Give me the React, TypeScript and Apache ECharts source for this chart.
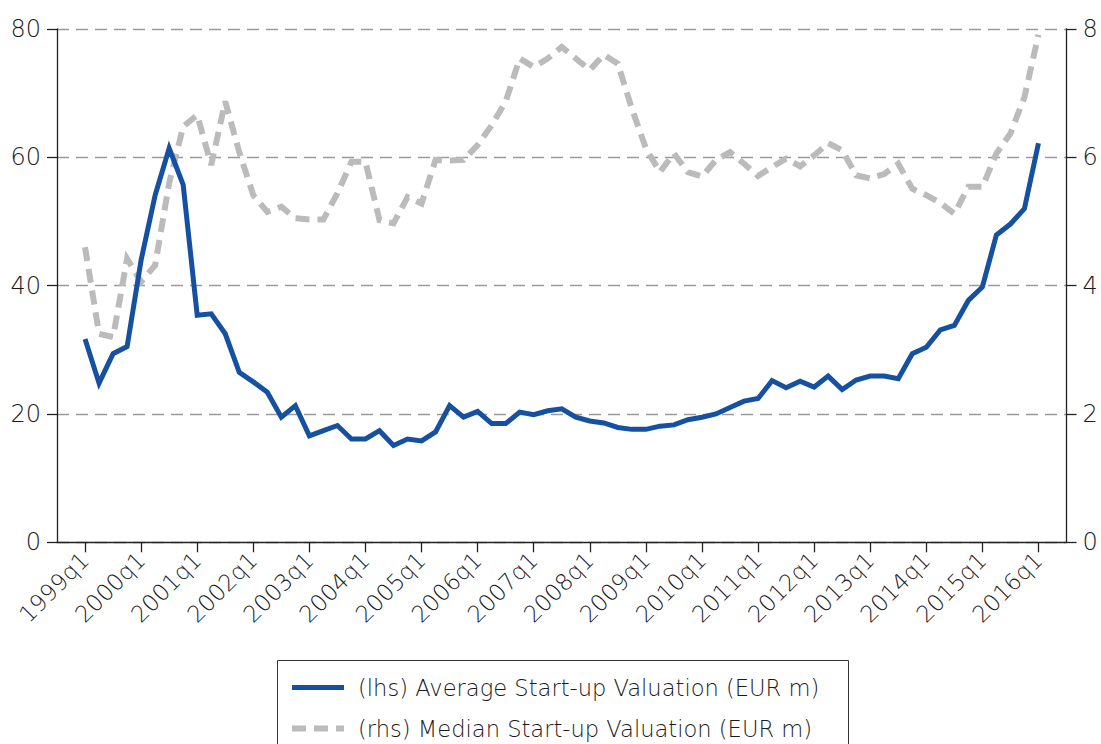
import React, { useEffect, useRef } from 'react';
import * as echarts from 'echarts';

// Quarter labels for the axis: 1998q3 .. 2016q3 (one blank half-year margin at each end)
const allQuarters: string[] = [];
for (let y = 1998; y <= 2016; y++) {
  for (let q = 1; q <= 4; q++) allQuarters.push(`${y}q${q}`);
}
const categories: string[] = allQuarters.slice(2, 75);

// 1999q1 .. 2016q1
const avgValuation: number[] = [
  31.7, 24.8, 29.4, 30.5, 44.0, 54.1, 61.4, 55.7, 35.4, 35.6,
  32.5, 26.5, 25.0, 23.4, 19.5, 21.3, 16.6, 17.4, 18.2, 16.1,
  16.1, 17.4, 15.1, 16.1, 15.8, 17.2, 21.3, 19.5, 20.4, 18.5,
  18.5, 20.3, 19.9, 20.5, 20.8, 19.5, 18.9, 18.6, 17.9, 17.6,
  17.6, 18.1, 18.3, 19.1, 19.5, 20.0, 21.0, 22.0, 22.4, 25.2,
  24.1, 25.1, 24.2, 25.9, 23.8, 25.3, 25.9, 25.9, 25.5, 29.4,
  30.4, 33.1, 33.8, 37.7, 39.8, 47.9, 49.6, 52.0, 62.2,
];

const medianValuation: number[] = [
  4.6, 3.25, 3.2, 4.42, 4.06, 4.32, 5.6, 6.48, 6.66, 5.88,
  6.87, 6.08, 5.41, 5.15, 5.23, 5.05, 5.03, 5.03, 5.44, 5.93,
  5.93, 5.02, 4.97, 5.38, 5.28, 5.96, 5.95, 5.96, 6.19, 6.5,
  6.87, 7.54, 7.41, 7.54, 7.72, 7.54, 7.36, 7.6, 7.46, 6.76,
  6.14, 5.77, 6.06, 5.77, 5.7, 5.96, 6.08, 5.9, 5.71, 5.85,
  5.98, 5.86, 6.03, 6.22, 6.11, 5.72, 5.67, 5.74, 5.9, 5.51,
  5.41, 5.29, 5.12, 5.54, 5.54, 6.06, 6.37, 6.94, 7.91,
];

const leftTicks = { min: 0, max: 80, interval: 20 };
const rightTicks = { min: 0, max: 8, interval: 2 };

const seriesNames = [
  '(lhs) Average Start-up Valuation (EUR m)',
  '(rhs) Median Start-up Valuation (EUR m)',
];

const FONT = '"DejaVu Sans", "Open Sans", sans-serif';
const AXIS_COLOR = '#222';
const BLUE = '#1551a0';
const GRAY = '#bbbbbb';

const pad = (arr: number[]) => [null, null, ...arr, null, null];
const isQ1 = (_i: number, v: string) => v.endsWith('q1');

export default function App() {
  const ref = useRef<HTMLDivElement>(null);
  useEffect(() => {
    if (!ref.current) return;
    const chart = echarts.init(ref.current, null, { renderer: 'svg' });
    const axisLabelBase = {
      color: '#1a1a1a',
      fontFamily: FONT,
      fontWeight: 200 as any,
      fontSize: 24,
    };
    chart.setOption({
      animation: false,
      backgroundColor: '#ffffff',
      grid: { left: 57, right: 34.5, top: 29, bottom: 201.7, containLabel: false },
      xAxis: {
        type: 'category',
        data: categories,
        boundaryGap: false,
        axisLine: { show: true, lineStyle: { color: AXIS_COLOR, width: 1.3 } },
        axisTick: { show: true, interval: isQ1, length: 10, lineStyle: { color: AXIS_COLOR, width: 1.3 } },
        axisLabel: { ...axisLabelBase, fontSize: 23, interval: isQ1, rotate: 45, margin: 14 },
        splitLine: { show: false },
      },
      yAxis: [
        {
          type: 'value',
          position: 'left',
          ...leftTicks,
          axisLine: { show: true, lineStyle: { color: AXIS_COLOR, width: 1.3 } },
          axisTick: { show: true, length: 10, lineStyle: { color: AXIS_COLOR, width: 1.3 } },
          axisLabel: { ...axisLabelBase, margin: 16 },
          splitLine: { show: true, lineStyle: { color: '#9a9a9a', width: 1.3, type: [12, 7] } },
        },
        {
          type: 'value',
          position: 'right',
          ...rightTicks,
          axisLine: { show: true, lineStyle: { color: AXIS_COLOR, width: 1.3 } },
          axisTick: { show: true, length: 10, lineStyle: { color: AXIS_COLOR, width: 1.3 } },
          axisLabel: { ...axisLabelBase, margin: 16 },
          splitLine: { show: false },
        },
      ],
      legend: {
        orient: 'vertical',
        left: 289,
        top: 676,
        padding: 0,
        itemWidth: 52,
        itemHeight: 24,
        itemGap: 18,
        itemStyle: { color: 'rgba(0,0,0,0)', borderWidth: 0, opacity: 0 },
        textStyle: {
          fontFamily: FONT,
          fontWeight: 200 as any,
          fontSize: 22.6,
          color: '#1a1a1a',
          padding: [0, 0, 0, 9],
        },
        data: [
          { name: seriesNames[0], lineStyle: { width: 5, color: BLUE } },
          { name: seriesNames[1], lineStyle: { width: 6, color: GRAY, type: [14, 8] } },
        ],
      },
      graphic: [
        {
          type: 'rect',
          shape: { x: 277.5, y: 660.5, width: 571, height: 130 },
          style: { fill: 'none', stroke: '#333', lineWidth: 1 },
          silent: true,
        },
      ],
      series: [
        {
          name: seriesNames[1],
          type: 'line',
          yAxisIndex: 1,
          data: pad(medianValuation),
          symbol: 'none',
          lineStyle: { color: GRAY, width: 6, type: [14, 8], cap: 'butt', join: 'miter' },
          itemStyle: { color: GRAY },
          z: 2,
        },
        {
          name: seriesNames[0],
          type: 'line',
          yAxisIndex: 0,
          data: pad(avgValuation),
          symbol: 'none',
          lineStyle: { color: BLUE, width: 5, join: 'miter' },
          itemStyle: { color: BLUE },
          z: 3,
        },
      ],
    });
    return () => chart.dispose();
  }, []);
  return (
    <div
      ref={ref}
      style={{ position: 'absolute', left: 0, top: 0, width: 1101, height: 744 }}
    />
  );
}
